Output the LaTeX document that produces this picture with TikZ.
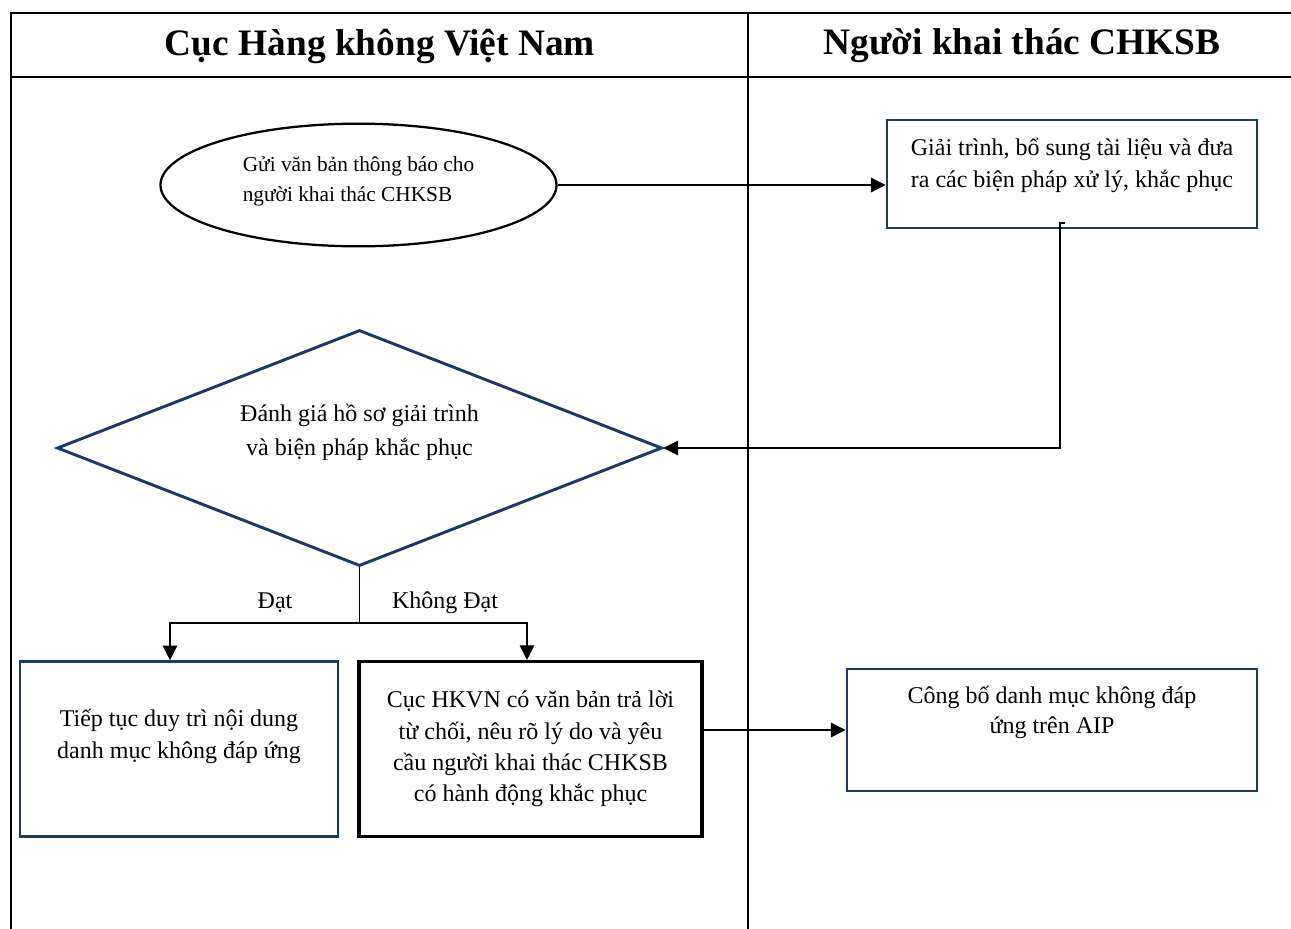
\documentclass[tikz,border=0pt]{standalone}
\usepackage{fontspec}
\setmainfont{Liberation Serif}
\usetikzlibrary{shapes.geometric,arrows.meta,positioning}
\definecolor{boxblue}{RGB}{31,56,100}
\tikzset
{
    lanetitle/.style = {font=\fontsize{28}{34}\selectfont\bfseries},
    laneline/.style = {line width=1.9pt},
    eventnode/.style = {ellipse, draw=black, line width=1.7pt, align=left, minimum width=297pt, minimum height=92pt, font=\fontsize{16}{22}\selectfont},
    stepnode/.style = {rectangle, draw=boxblue, line width=2.2pt, align=center, font=\fontsize{18}{23.6}\selectfont},
    decisionnode/.style = {diamond, draw=boxblue, line width=2.2pt, aspect=2.56, align=center, minimum width=453.75pt, minimum height=177pt, font=\fontsize{18}{25}\selectfont},
    branchlabel/.style = {anchor=base, font=\fontsize{18}{22}\selectfont},
    raised/.style = {text height=#1, text depth=0pt},
    flow/.style = {-{Triangle[width=11pt,length=11pt]}, line width=0.8pt}
}

\begin{document}
\begin{tikzpicture}[x=0.75pt, y=-0.75pt]
	\useasboundingbox (0,0) rectangle (1291,928);
	% swimlanes
	\draw[laneline] (1291,13) -- (11,13) -- (11,930);
	\draw[laneline] (11,77) -- (1291,77);
	\draw[laneline] (748,13) -- (748,930);
	\node[lanetitle] (caav) at (380,46) {Cục Hàng không Việt Nam};
	\node[lanetitle] (operator) at (1022,46) {Người khai thác CHKSB};

	% steps
	\node[eventnode, raised=24pt] (notify) at (358.5,185) {Gửi văn bản thông báo cho\\người khai thác CHKSB};
	\node[stepnode, align=left, minimum width=277.5pt, minimum height=81pt, raised=20pt, font=\fontsize{18}{24.2}\selectfont] (explain) at (1072,174) {Giải trình, bổ sung tài liệu và đưa\\ra các biện pháp xử lý, khắc phục};
	\node[decisionnode, raised=10.5pt] (review) at (359.5,448) {Đánh giá hồ sơ giải trình\\và biện pháp khắc phục};
	\node[stepnode, minimum width=238.5pt, minimum height=131pt, raised=13.5pt] (keep) at (179,749) {Tiếp tục duy trì nội dung\\danh mục không đáp ứng};
	\node[stepnode, draw=black, line width=2.6pt, minimum width=257pt, minimum height=131pt] (reject) at (530.5,749) {Cục HKVN có văn bản trả lời\\từ chối, nêu rõ lý do và yêu\\cầu người khai thác CHKSB\\có hành động khắc phục};
	\node[stepnode, minimum width=307.5pt, minimum height=91.5pt, raised=5pt, font=\fontsize{18}{22.5}\selectfont] (publish) at (1052,730) {Công bố danh mục không đáp\\ứng trên AIP};

	% connectors
	\coordinate (stub) at (1065,223);
	\coordinate (turn) at (1060,448);
	\coordinate (split) at (359.5,623);
	\coordinate (passleft) at (170,623);
	\coordinate (passright) at (527,623);
	\draw[flow] (notify.east) -- (notify.east -| explain.west);
	\draw[flow] (stub) -- (stub -| turn) -- (turn) -- (review.east);
	\draw[line width=0.8pt] (review.south) -- (split);
	\draw[flow] (split) -- (passleft) -- (passleft |- keep.north);
	\draw[flow] (split) -- (passright) -- (passright |- reject.north);
	\draw[flow] (reject.east |- publish.west) -- (publish.west);
	\node[branchlabel] (pass) at (275,608) {Đạt};
	\node[branchlabel] (fail) at (445,608) {Không Đạt};
\end{tikzpicture}
\end{document}
